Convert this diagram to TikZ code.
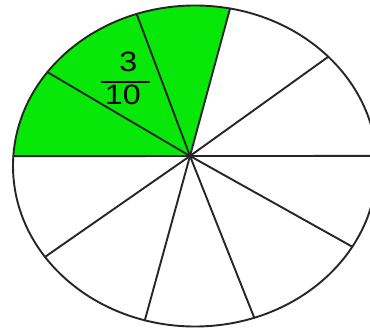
\documentclass[tikz,border=0pt]{standalone}
\usepackage{fontspec}
\usepackage{graphicx}
\setmainfont{Liberation Sans}
\usetikzlibrary{calc}

\newcommand*{\ellrx}{182}
\newcommand*{\ellry}{160.5}
\newcommand*{\widedigits}[1]{\scalebox{1.15}[1]{#1}}

\begin{document}
\begin{tikzpicture}
[
	x=1pt,y=1pt,
	edge/.style={line width=1.9pt,draw=black!85,line cap=round,line join=round},
	slice/.style={fill={rgb,255:red,8;green,232;blue,8}},
	fracnum/.style={font=\fontsize{28}{32}\selectfont,inner sep=0pt,anchor=base}
]

	\useasboundingbox (0,0) rectangle (370,-329);
	\clip (0,0) rectangle (370,-329);

	% centres
	\coordinate (e) at (195,-166);
	\coordinate (c) at (190,-156);

	% shaded part
	\fill[slice] (c) -- ($(e)+(176.5:\ellrx pt and \ellry pt)$)
		arc[start angle=176.5,end angle=78.9,x radius=\ellrx pt,y radius=\ellry pt] -- cycle;

	% outline
	\draw[edge] (e) ellipse[x radius=\ellrx pt,y radius=\ellry pt];

	% spokes
	\foreach \a in {176.5,144.2,108.7,78.9,42.9,3.6,-30.2,-71,-106,-145.5}
		\draw[edge] (c) -- ($(e)+(\a:\ellrx pt and \ellry pt)$);

	% label
	\node[fracnum] (num) at (128.4,-71.7) {\widedigits{3}};
	\node[fracnum] (den) at (122.8,-105) {\widedigits{10}};
	\draw[line width=2pt] (101,-81.7) -- (150,-81.7);

\end{tikzpicture}
\end{document}
